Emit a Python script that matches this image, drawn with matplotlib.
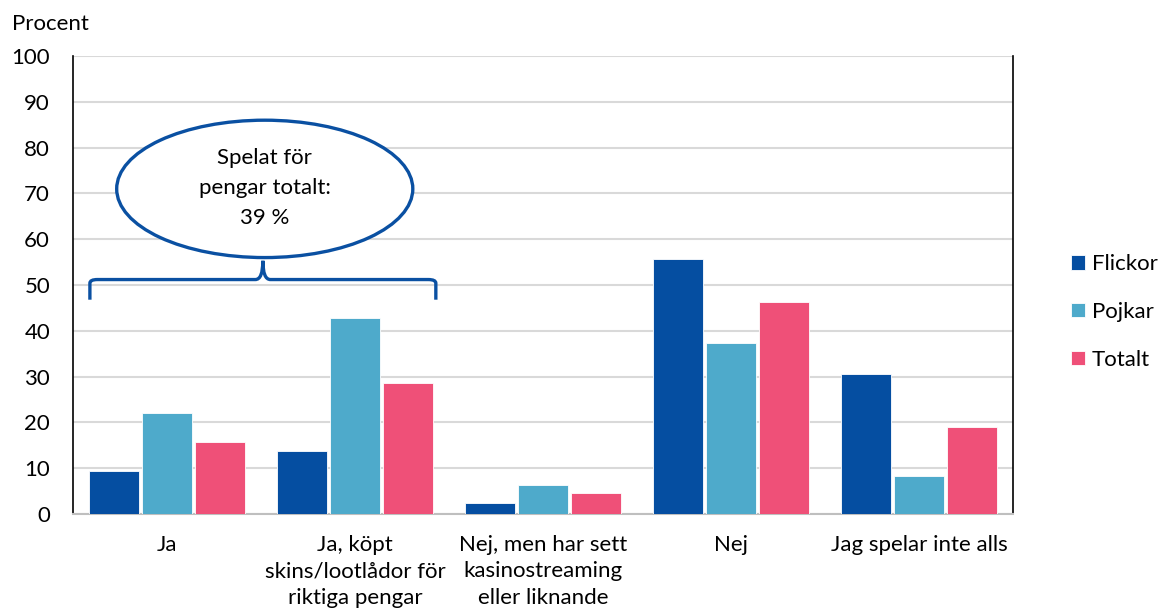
import numpy as np
import matplotlib.pyplot as plt
from matplotlib.patches import Ellipse, PathPatch
from matplotlib.path import Path

plt.rcParams['font.family'] = ['Lato', 'DejaVu Sans']

# data
kategorier = ['Ja', 'Ja, köpt\nskins/lootlådor för\nriktiga pengar',
              'Nej, men har sett\nkasinostreaming\neller liknande',
              'Nej', 'Jag spelar inte alls']
flickor = [9.3, 13.8, 2.4, 55.7, 30.5]
pojkar = [22.0, 42.7, 6.4, 37.4, 8.2]
totalt = [15.8, 28.6, 4.5, 46.4, 19.0]
serier = ['Flickor', 'Pojkar', 'Totalt']
farger = ['#054ea1', '#4eaacb', '#ef5078']
bla = '#0a50a2'

fig = plt.figure(figsize=(11.62, 6.13), dpi=100)
ax = fig.add_axes([0.0628, 0.1615, 0.809, 0.747])

x = np.arange(len(kategorier))
bw = 0.266
step = 0.283
for i, (vals, namn, c) in enumerate(zip([flickor, pojkar, totalt], serier, farger)):
    ax.bar(x + (i - 1) * step, vals, width=bw, color=c, label=namn,
           edgecolor='white', linewidth=0.6, zorder=3)

ax.set_xlim(-0.5, 4.5)
ax.set_ylim(0, 100)
ax.set_yticks(range(0, 101, 10))
ax.set_xticks(x)
ax.set_xticklabels(kategorier, fontsize=16, linespacing=1.4)
ax.tick_params(axis='y', length=0, pad=16.5, labelsize=16)
ax.tick_params(axis='x', length=0, pad=15)
ax.grid(axis='y', color='#d9d9d9', linewidth=1.5, zorder=0)
ax.spines['top'].set_visible(False)
ax.spines['left'].set_color('black')
ax.spines['right'].set_color('black')
ax.spines['left'].set_linewidth(1.2)
ax.spines['right'].set_linewidth(1.2)
ax.spines['bottom'].set_color('#bfbfbf')
ax.spines['bottom'].set_linewidth(1.5)

fig.text(0.010, 0.961, 'Procent', fontsize=16, ha='left', va='center')

# ellips med text
ell = Ellipse((0.52, 71.0), 1.575, 30, facecolor='white', edgecolor=bla,
              linewidth=2.4, zorder=5)
ax.add_patch(ell)
ax.text(0.52, 71.2, 'Spelat för\npengar totalt:\n39 %', ha='center', va='center',
        fontsize=16, linespacing=1.65, zorder=6)

# klammer
x0, x1, xm = -0.41, 1.43, 0.51
yb, yt, yp = 46.8, 51.2, 55.3
r = 0.04
verts = [(x0, yb), (x0, yt - 0.8), (x0, yt), (x0 + r, yt),
         (xm - r, yt), (xm, yt), (xm, yp),
         (xm, yt), (xm + r, yt),
         (x1 - r, yt), (x1, yt), (x1, yt - 0.8), (x1, yb)]
codes = [Path.MOVETO, Path.LINETO, Path.CURVE3, Path.CURVE3,
         Path.LINETO, Path.CURVE3, Path.CURVE3,
         Path.CURVE3, Path.CURVE3,
         Path.LINETO, Path.CURVE3, Path.CURVE3, Path.LINETO]
brace = PathPatch(Path(verts, codes), facecolor='none', edgecolor=bla,
                  linewidth=2.4, zorder=5, capstyle='butt')
ax.add_patch(brace)

fig.legend(loc='center left', bbox_to_anchor=(0.922, 0.491), frameon=False,
           fontsize=16, handlelength=0.63, handleheight=0.63, handletextpad=0.3,
           labelspacing=1.25, borderaxespad=0, borderpad=0)

fig.savefig('out.png', dpi=100)
